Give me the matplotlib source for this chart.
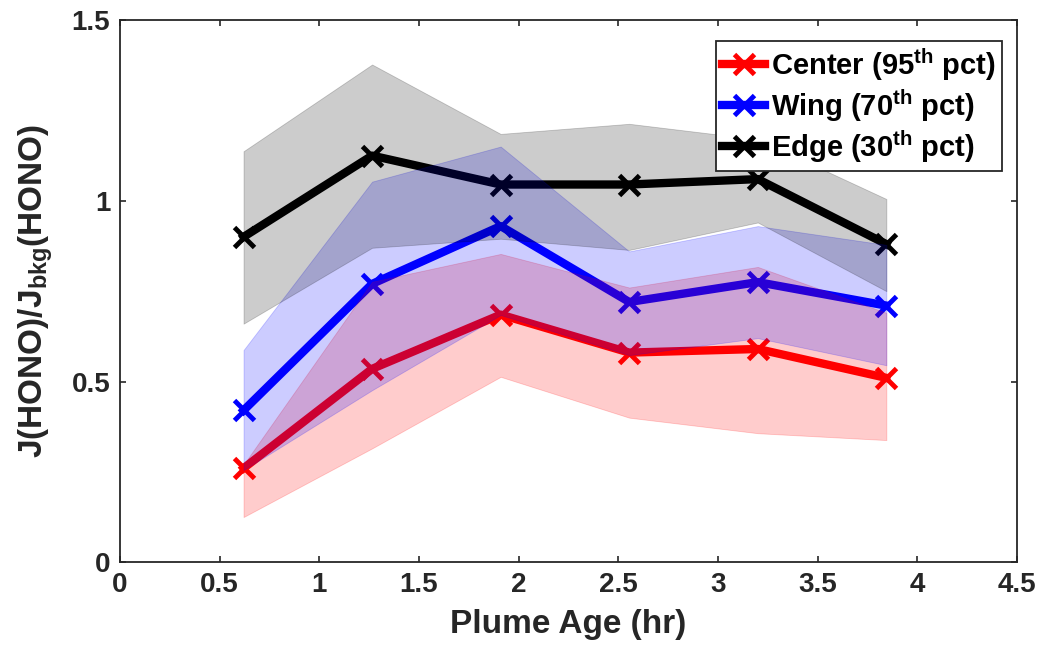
import matplotlib
matplotlib.use("Agg")
import matplotlib.pyplot as plt
import numpy as np

# plume age (hr)
age = [0.62, 1.265, 1.91, 2.555, 3.2, 3.845]

# median lines
center = [0.26, 0.535, 0.685, 0.58, 0.59, 0.51]
wing = [0.42, 0.77, 0.93, 0.72, 0.775, 0.71]
edge = [0.90, 1.125, 1.045, 1.045, 1.06, 0.88]

# shaded ranges
center_lo = [0.125, 0.315, 0.513, 0.40, 0.357, 0.338]
center_hi = [0.27, 0.776, 0.853, 0.76, 0.817, 0.69]
wing_lo = [0.255, 0.476, 0.684, 0.573, 0.62, 0.545]
wing_hi = [0.587, 1.053, 1.15, 0.86, 0.93, 0.878]
edge_lo = [0.66, 0.87, 0.895, 0.864, 0.94, 0.75]
edge_hi = [1.137, 1.377, 1.185, 1.213, 1.17, 1.005]

labels = [r"Center (95$^{\mathrm{th}}$ pct)",
          r"Wing (70$^{\mathrm{th}}$ pct)",
          r"Edge (30$^{\mathrm{th}}$ pct)"]

plt.rcParams["font.family"] = "Liberation Sans"
plt.rcParams["font.weight"] = "bold"
plt.rcParams["mathtext.fontset"] = "custom"
plt.rcParams["mathtext.rm"] = "Liberation Sans:bold"
plt.rcParams["mathtext.bf"] = "Liberation Sans:bold"
plt.rcParams["mathtext.it"] = "Liberation Sans:bold"

fig = plt.figure(figsize=(10.43, 6.47), dpi=100)
ax = fig.add_axes([0.115, 0.131, 0.86, 0.838])

series = [(center, center_lo, center_hi, "red"),
          (wing, wing_lo, wing_hi, "blue"),
          (edge, edge_lo, edge_hi, "black")]

# lines first, shaded ranges drawn over them (as in the original)
for (y, lo, hi, c), lab in zip(series, labels):
    ax.plot(age, y, color=c, lw=6, marker="x", ms=15, mew=3.5,
            label=lab, zorder=1)

for y, lo, hi, c in series:
    ax.fill_between(age, lo, hi, facecolor=c, alpha=0.2,
                    edgecolor=c, linewidth=0.6, zorder=2)

ax.set_xlim(0, 4.5)
ax.set_ylim(0, 1.5)
ax.set_xticks(np.arange(0, 4.51, 0.5))
ax.set_yticks([0, 0.5, 1, 1.5])
ax.set_xticklabels(["0", "0.5", "1", "1.5", "2", "2.5", "3", "3.5", "4", "4.5"])
ax.set_yticklabels(["0", "0.5", "1", "1.5"])
ax.tick_params(direction="in", top=True, right=True, labelsize=20,
               length=4, width=1.2, color="#262626", labelcolor="#262626")
ax.tick_params(axis="x", pad=7)
ax.tick_params(axis="y", pad=7)
for s in ax.spines.values():
    s.set_linewidth(1.3)
    s.set_color("#262626")

ax.set_xlabel("Plume Age (hr)", fontsize=24, fontweight="bold", labelpad=8,
              color="#262626")
ax.set_ylabel(r"J(HONO)/J$_{\mathrm{bkg}}$(HONO)", fontsize=24,
              fontweight="bold", labelpad=12, color="#262626")

leg = ax.legend(loc="upper right", bbox_to_anchor=(1 - 15 / 897, 1 - 21 / 542),
                fontsize=21, numpoints=1, handlelength=1.5,
                fancybox=False, framealpha=1, edgecolor="#262626",
                borderaxespad=0, labelspacing=0.15, handletextpad=0.2,
                borderpad=0.2, handleheight=0.9)
leg.get_frame().set_linewidth(1.3)

fig.savefig("out.png", dpi=100)
